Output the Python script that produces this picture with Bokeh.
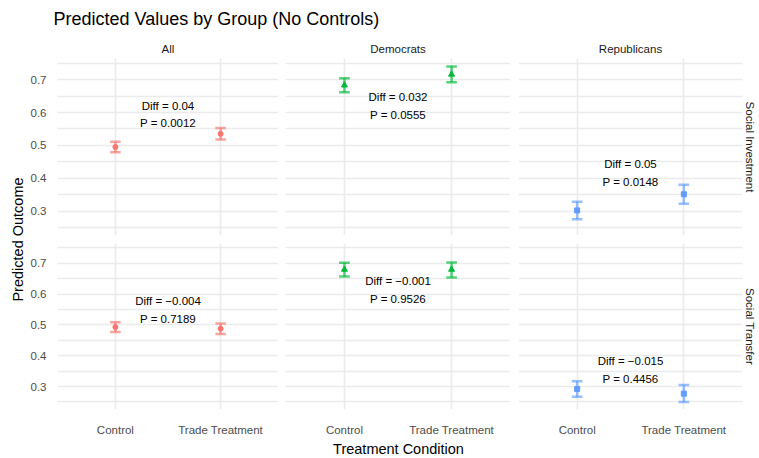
import math
from bokeh.plotting import figure
from bokeh.models import ColumnDataSource, FactorRange, Range1d, FixedTicker, Title, Label
from bokeh.transform import dodge
from bokeh.layouts import row, column
from bokeh.core.properties import value
from bokeh.embed import file_html
from bokeh.resources import INLINE

# ---------------- data ----------------
groups = ["All", "Democrats", "Republicans"]
policies = ["Social Investment", "Social Transfer"]
conditions = ["Control", "Trade Treatment"]
group_colors = ["#F8766D", "#00BA38", "#619CFF"]
group_markers = ["circle", "triangle", "square"]

# predicted values [Control, Trade Treatment] per group
est_investment = [[0.495, 0.535], [0.683, 0.716], [0.302, 0.351]]
low_investment = [[0.479, 0.518], [0.662, 0.692], [0.275, 0.322]]
high_investment = [[0.511, 0.553], [0.704, 0.740], [0.328, 0.380]]

est_transfer = [[0.493, 0.488], [0.680, 0.680], [0.292, 0.277]]
low_transfer = [[0.477, 0.471], [0.657, 0.654], [0.267, 0.250]]
high_transfer = [[0.509, 0.505], [0.702, 0.703], [0.317, 0.305]]

diff_investment = [0.04, 0.032, 0.05]
p_investment = [0.0012, 0.0555, 0.0148]
label_y_investment = [0.594, 0.620, 0.416]

diff_transfer = [-0.004, -0.001, -0.015]
p_transfer = [0.7189, 0.9526, 0.4456]
label_y_transfer = [0.548, 0.614, 0.354]

y_ticks = [0.3, 0.4, 0.5, 0.6, 0.7]
y_minor = [0.25, 0.35, 0.45, 0.55, 0.65, 0.75]

title_text = "Predicted Values by Group (No Controls)"
x_title = "Treatment Condition"
y_title = "Predicted Outcome"

# ---------------- style ----------------
FONT = "Liberation Sans"
GRID = "#EBEBEB"
FRAME_W = 225
FRAME_H = 177
YLAB_W = 27

all_vals = sum(low_investment + high_investment + low_transfer + high_transfer, [])
ymin, ymax = min(all_vals), max(all_vals)
pad = (ymax - ymin) * 0.05
Y0, Y1 = ymin - pad, ymax + pad

est_all = [est_investment, est_transfer]
low_all = [low_investment, low_transfer]
high_all = [high_investment, high_transfer]
diff_all = [diff_investment, diff_transfer]
p_all = [p_investment, p_transfer]
ly_all = [label_y_investment, label_y_transfer]


def fmt(v):
    return f"{v:g}".replace("-", "\u2212")


def make_panel(pi, gi):
    left, right = gi == 0, gi == 2
    top, bottom = pi == 0, pi == 1
    mbl = (53 - YLAB_W) if left else (7 if gi == 1 else 8)
    mbr = 16 if right else 0
    mbt = 28 if top else 8
    mbb = 18 if bottom else 0
    p = figure(width=FRAME_W + mbl + mbr, height=FRAME_H + mbt + mbb,
               x_range=FactorRange(factors=conditions, range_padding=0.05,
                                   range_padding_units="percent"),
               y_range=Range1d(Y0, Y1),
               output_backend="svg", toolbar_location=None,
               min_border_left=mbl, min_border_right=mbr,
               min_border_top=mbt, min_border_bottom=mbb)
    p.outline_line_color = None
    p.background_fill_color = "white"
    p.border_fill_color = "white"

    ticker = FixedTicker(ticks=y_ticks, minor_ticks=y_minor)
    p.yaxis.ticker = ticker
    p.ygrid.ticker = ticker
    for ax in (p.xaxis, p.yaxis):
        ax.axis_line_color = None
        ax.major_tick_line_color = None
        ax.minor_tick_line_color = None
        ax.major_label_text_font = FONT
        ax.major_label_text_font_size = "11.5px"
        ax.major_label_text_color = "#4D4D4D"
    p.xaxis.major_label_standoff = 8
    p.yaxis.major_label_standoff = 5
    p.xaxis.visible = bottom
    p.yaxis.visible = left

    p.xgrid.grid_line_color = GRID
    p.xgrid.grid_line_width = 1.6
    p.ygrid.grid_line_color = GRID
    p.ygrid.grid_line_width = 1.6
    p.ygrid.minor_grid_line_color = GRID
    p.ygrid.minor_grid_line_width = 1.6

    if top:
        p.title.text = groups[gi]
        p.title.align = "center"
        p.title.text_font = FONT
        p.title.text_font_size = "11.5px"
        p.title.text_font_style = "normal"
        p.title.text_color = "#1A1A1A"
        p.title.standoff = 7
    if right:
        p.add_layout(Title(text=policies[pi], align="center", text_font=FONT,
                           text_font_size="11.5px", text_font_style="normal",
                           text_color="#1A1A1A", standoff=3), "right")

    color = group_colors[gi]
    src = ColumnDataSource(dict(cond=conditions, est=est_all[pi][gi],
                                lo=low_all[pi][gi], hi=high_all[pi][gi]))
    eb = dict(line_color=color, line_alpha=0.65, line_width=2.5, source=src)
    p.segment(x0="cond", y0="lo", x1="cond", y1="hi", **eb)
    for yk in ("lo", "hi"):
        p.segment(x0=dodge("cond", -0.05, range=p.x_range), y0=yk,
                  x1=dodge("cond", 0.05, range=p.x_range), y1=yk, **eb)
    msize = {"circle": 5, "triangle": 6, "square": 5}[group_markers[gi]]
    p.scatter(x="cond", y="est", marker=group_markers[gi], size=msize,
              color=color, source=src)

    lab = ColumnDataSource(dict(
        cond=[conditions[0]], y=[ly_all[pi][gi]],
        text=[f"Diff = {fmt(diff_all[pi][gi])}\nP = {fmt(p_all[pi][gi])}"]))
    p.text(x=dodge("cond", 0.5, range=p.x_range), y="y", text="text", source=lab,
           text_font=value(FONT), text_font_size="11.5px", text_color="black",
           text_align="center", text_baseline="middle", text_line_height=1.45)
    return p


def blank(w, h):
    f = figure(width=w, height=h, x_range=Range1d(0, w), y_range=Range1d(0, h),
               output_backend="svg", toolbar_location=None,
               x_axis_location=None, y_axis_location=None, min_border=0)
    f.grid.visible = False
    f.outline_line_color = None
    return f


panels = [[make_panel(pi, gi) for gi in range(3)] for pi in range(2)]
grid = column(row(*panels[0]), row(*panels[1]))

header = blank(759, 30)
header.add_layout(Label(x=53, y=11.5, text=title_text, text_font=FONT,
                        text_font_size="18px", text_color="black",
                        text_align="left", text_baseline="middle"))

ylab = blank(YLAB_W, 408)
ylab.add_layout(Label(x=17, y=199, text=y_title, angle=math.pi / 2,
                      text_font=FONT, text_font_size="14.5px", text_color="black",
                      text_align="center", text_baseline="middle"))

xlab = blank(759, 20)
xlab.add_layout(Label(x=398, y=10, text=x_title, text_font=FONT,
                      text_font_size="14.5px", text_color="black",
                      text_align="center", text_baseline="middle"))

layout = column(header, row(ylab, grid), xlab)

open("out.html", "w").write(file_html(layout, INLINE))
